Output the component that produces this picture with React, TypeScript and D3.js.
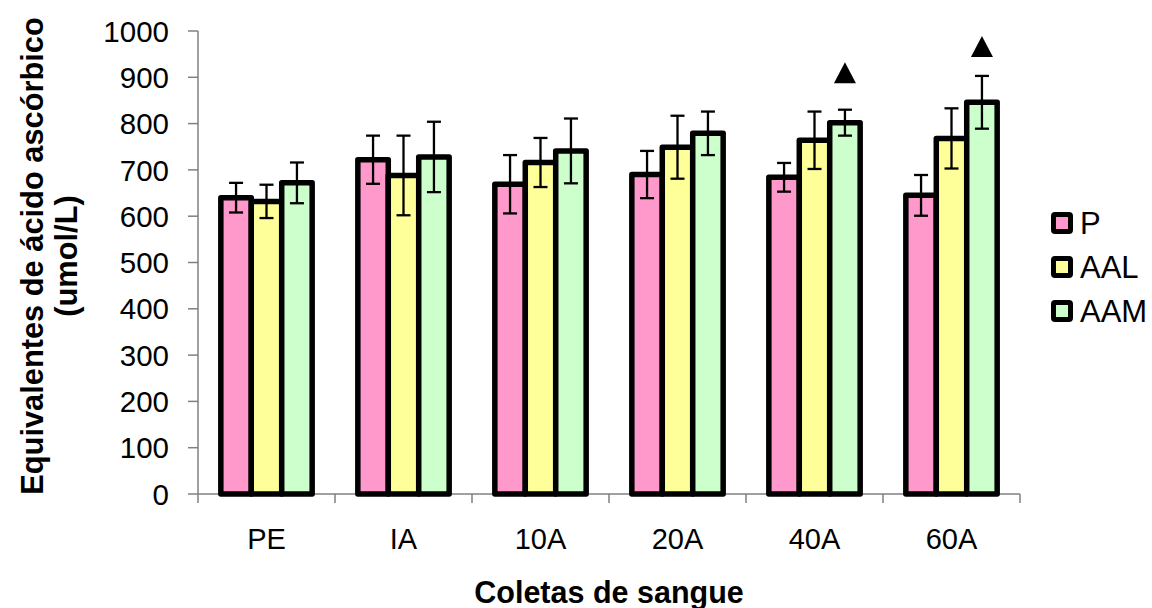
import React from "react";
import * as d3 from "d3";

const categories = ["PE", "IA", "10A", "20A", "40A", "60A"];
const seriesNames = ["P", "AAL", "AAM"];
const pValues = [640, 722, 669, 690, 684, 645];
const aalValues = [632, 688, 716, 749, 764, 768];
const aamValues = [672, 728, 741, 779, 802, 846];
const pErrors = [32, 52, 63, 51, 31, 44];
const aalErrors = [36, 86, 53, 68, 62, 65];
const aamErrors = [44, 76, 70, 47, 28, 57];
const aamMarkers: (number | null)[] = [null, null, null, null, 887, 944];
const yTicks = [0, 100, 200, 300, 400, 500, 600, 700, 800, 900, 1000];
const colors = ["#FF99CC", "#FFFF99", "#CCFFCC"];

const W = 1152;
const H = 608;
const left = 198;
const right = 1020;
const top = 31;
const bottom = 494;

export default function App() {
  const x = d3
    .scaleBand<string>()
    .domain(categories)
    .range([left, right])
    .paddingInner(1 / 3)
    .paddingOuter(1 / 6);
  const xs = d3.scaleBand<string>().domain(seriesNames).range([0, x.bandwidth()]).padding(0);
  const y = d3.scaleLinear().domain([0, 1000]).range([bottom, top]);
  const step = x.step();

  const values = [pValues, aalValues, aamValues];
  const errors = [pErrors, aalErrors, aamErrors];
  const font = "'Liberation Sans', Arial, sans-serif";
  const capW = 7;

  return (
    <svg
      width={W}
      height={H}
      style={{ position: "absolute", left: 0, top: 0, display: "block", background: "#fff" }}
      fontFamily={font}
    >
      {/* y axis */}
      <line x1={left} x2={left} y1={y(1000)} y2={y(0)} stroke="#808080" strokeWidth={1.5} />
      {yTicks.map((t) => (
        <g key={t}>
          <line x1={left - 10} x2={left} y1={y(t)} y2={y(t)} stroke="#808080" strokeWidth={1.5} />
          <text x={169} y={y(t)} dy="0.36em" textAnchor="end" fontSize={29.5} fill="#000">
            {t}
          </text>
        </g>
      ))}
      {/* x axis */}
      <line x1={left} x2={right} y1={y(0)} y2={y(0)} stroke="#808080" strokeWidth={1.5} />
      {d3.range(categories.length + 1).map((i) => (
        <line
          key={i}
          x1={left + i * step}
          x2={left + i * step}
          y1={y(0)}
          y2={y(0) + 9}
          stroke="#808080"
          strokeWidth={1.5}
        />
      ))}
      {categories.map((c) => (
        <text key={c} x={(x(c) as number) + x.bandwidth() / 2} y={549} textAnchor="middle" fontSize={29}>
          {c}
        </text>
      ))}

      {/* bars */}
      {categories.map((c, ci) =>
        seriesNames.map((s, si) => {
          const bx = (x(c) as number) + (xs(s) as number);
          const v = values[si][ci];
          return (
            <rect
              key={c + s}
              x={bx}
              y={y(v)}
              width={xs.bandwidth()}
              height={y(0) - y(v)}
              fill={colors[si]}
              stroke="#000"
              strokeWidth={5.5}
              strokeLinejoin="round"
            />
          );
        })
      )}
      {/* error bars */}
      {categories.map((c, ci) =>
        seriesNames.map((s, si) => {
          const cx = (x(c) as number) + (xs(s) as number) + xs.bandwidth() / 2;
          const v = values[si][ci];
          const e = errors[si][ci];
          return (
            <g key={"e" + c + s} stroke="#000" strokeWidth={2.3}>
              <line x1={cx} x2={cx} y1={y(v + e)} y2={y(v - e)} />
              <line x1={cx - capW} x2={cx + capW} y1={y(v + e)} y2={y(v + e)} />
              <line x1={cx - capW} x2={cx + capW} y1={y(v - e)} y2={y(v - e)} />
            </g>
          );
        })
      )}
      {/* markers */}
      {categories.map((c, ci) => {
        const m = aamMarkers[ci];
        if (m == null) return null;
        const cx = (x(c) as number) + (xs("AAM") as number) + xs.bandwidth() / 2;
        const yb = y(m);
        return <path key={"m" + c} d={`M${cx - 11},${yb} L${cx + 11},${yb} L${cx},${yb - 21} Z`} fill="#000" />;
      })}

      {/* legend */}
      {seriesNames.map((s, i) => {
        const cy = 223 + i * 44;
        return (
          <g key={"l" + s}>
            <rect x={1053.5} y={cy - 8.5} width={17} height={17} fill={colors[i]} stroke="#000" strokeWidth={5} rx={1.5} />
            <text x={1080} y={cy} dy="0.36em" fontSize={31}>
              {s}
            </text>
          </g>
        );
      })}

      {/* axis titles */}
      <text x={(left + right) / 2} y={603} textAnchor="middle" fontSize={30.5} fontWeight="bold">
        Coletas de sangue
      </text>
      <g transform="translate(0,256) rotate(-90)">
        <text x={0} y={43} textAnchor="middle" fontSize={30.8} fontWeight="bold">
          Equivalentes de ácido ascórbico
        </text>
        <text x={0} y={77} textAnchor="middle" fontSize={30.8} fontWeight="bold">
          (umol/L)
        </text>
      </g>
    </svg>
  );
}
